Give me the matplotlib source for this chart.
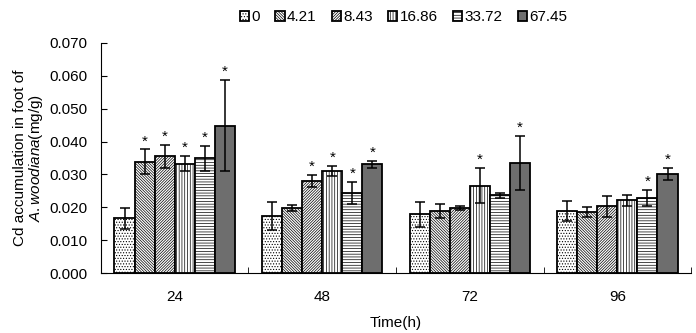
import numpy as np
import matplotlib
matplotlib.use("Agg")
import matplotlib.pyplot as plt

plt.rcParams['font.family'] = ['Liberation Sans', 'DejaVu Sans']
plt.rcParams['mathtext.fontset'] = 'custom'
plt.rcParams['mathtext.it'] = 'Liberation Sans:italic'
plt.rcParams['mathtext.rm'] = 'Liberation Sans'
plt.rcParams['hatch.linewidth'] = 0.5

# data
times = ["24", "48", "72", "96"]
doses = ["0", "4.21", "8.43", "16.86", "33.72", "67.45"]
cd_0 = [0.0167, 0.0174, 0.0179, 0.0189]
cd_421 = [0.0338, 0.0197, 0.0189, 0.0186]
cd_843 = [0.0355, 0.0280, 0.0199, 0.0203]
cd_1686 = [0.0333, 0.0310, 0.0266, 0.0221]
cd_3372 = [0.0349, 0.0244, 0.0236, 0.0229]
cd_6745 = [0.0448, 0.0331, 0.0336, 0.0301]
err_0 = [0.0032, 0.0043, 0.0038, 0.0031]
err_421 = [0.0038, 0.0009, 0.0022, 0.0014]
err_843 = [0.0034, 0.0018, 0.0006, 0.0032]
err_1686 = [0.0023, 0.0016, 0.0054, 0.0016]
err_3372 = [0.0038, 0.0033, 0.0007, 0.0024]
err_6745 = [0.0139, 0.0010, 0.0082, 0.0019]
# significance marks (1 = star)
sig_0 = [0, 0, 0, 0]
sig_421 = [1, 0, 0, 0]
sig_843 = [1, 1, 0, 0]
sig_1686 = [1, 1, 1, 0]
sig_3372 = [1, 1, 0, 1]
sig_6745 = [1, 1, 1, 1]

values = [cd_0, cd_421, cd_843, cd_1686, cd_3372, cd_6745]
errors = [err_0, err_421, err_843, err_1686, err_3372, err_6745]
stars = [sig_0, sig_421, sig_843, sig_1686, sig_3372, sig_6745]

hatches = ['......', '\\' * 12, '/' * 12, '|' * 6, '-' * 6, '']
fills = ['white', 'white', 'white', 'white', 'white', '#6e6e6e']

fig = plt.figure(figsize=(6.96, 3.33), dpi=100)
ax = fig.add_axes([0.145, 0.180, 0.848, 0.691])

x = np.arange(len(times))
w = 0.136
for i in range(len(doses)):
    pos = x + (i - 2.5) * w
    ax.bar(pos, values[i], width=w, color=fills[i], edgecolor='black',
           hatch=hatches[i], linewidth=1.3, label=doses[i], zorder=2)
    ax.errorbar(pos, values[i], yerr=errors[i], fmt='none', ecolor='black',
                elinewidth=1.1, capsize=3.5, capthick=1.1, zorder=3)
    for j in range(len(times)):
        if stars[i][j]:
            ax.text(pos[j], values[i][j] + errors[i][j] + 0.0003, "*",
                    ha='center', va='bottom', fontsize=11)

ax.set_xlim(-0.5, 3.5)
ax.set_ylim(0, 0.070)
yt = np.arange(0, 0.0701, 0.010)
ax.set_yticks(yt)
ax.set_yticklabels(["%.3f" % v for v in yt])
ax.set_xticks(x)
ax.set_xticklabels(times)
ax.set_xticks(np.arange(0.5, 3.6, 1.0), minor=True)
ax.tick_params(axis='x', which='major', length=0, labelsize=11, pad=12)
ax.tick_params(axis='x', which='minor', direction='in', length=4)
ax.tick_params(axis='y', direction='in', length=4, labelsize=11, pad=10)
ax.spines['top'].set_visible(False)
ax.spines['right'].set_visible(False)

ax.set_xlabel("Time(h)", fontsize=11, labelpad=9)
ax.set_ylabel("Cd accumulation in foot of\n" + r"$\it{A.woodiana}$(mg/g)",
              fontsize=11, labelpad=3, linespacing=1.0)

fig.legend(loc='upper center', bbox_to_anchor=(0.58, 1.01), ncol=6,
           frameon=False, fontsize=11, handlelength=0.6, handleheight=0.6,
           handletextpad=0.15, columnspacing=1.0)

fig.savefig("out.png", dpi=100)
